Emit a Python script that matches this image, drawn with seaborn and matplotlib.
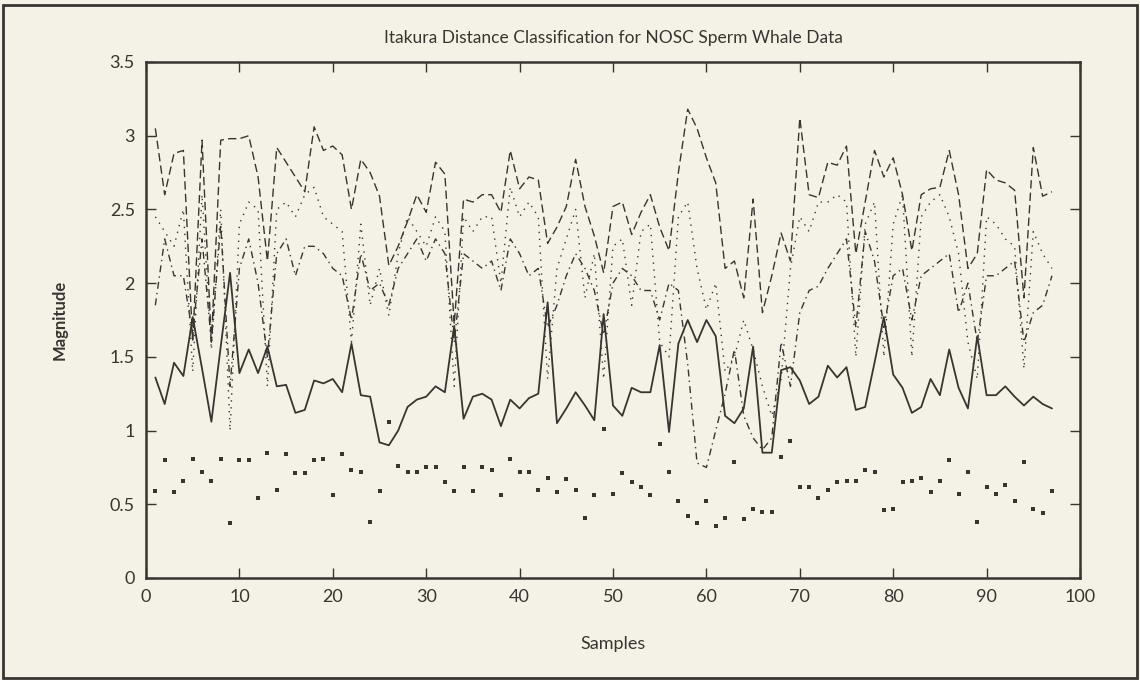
import numpy as np
import pandas as pd
import matplotlib
matplotlib.use("Agg")
import matplotlib.pyplot as plt
import seaborn as sns

samples = list(range(1, 98))

dashed_vals = [3.05, 2.60, 2.88, 2.90, 1.60, 2.97, 1.60, 2.97, 2.98, 2.98,
               3.00, 2.72, 2.15, 2.92, 2.82, 2.72, 2.62, 3.06, 2.90, 2.93,
               2.87, 2.50, 2.84, 2.75, 2.59, 2.12, 2.25, 2.42, 2.60, 2.48,
               2.82, 2.74, 1.72, 2.57, 2.55, 2.60, 2.60, 2.48, 2.90, 2.64,
               2.72, 2.70, 2.27, 2.38, 2.52, 2.84, 2.52, 2.32, 2.07, 2.52,
               2.55, 2.33, 2.48, 2.60, 2.38, 2.22, 2.75, 3.18, 3.05, 2.85,
               2.68, 2.10, 2.15, 1.90, 2.57, 1.80, 2.05, 2.34, 2.15, 3.12,
               2.60, 2.58, 2.82, 2.80, 2.93, 2.20, 2.55, 2.90, 2.72, 2.85,
               2.60, 2.22, 2.60, 2.64, 2.65, 2.90, 2.60, 2.10, 2.20, 2.77,
               2.70, 2.68, 2.63, 1.90, 2.92, 2.59, 2.62]

dotted_vals = [2.45, 2.35, 2.25, 2.50, 1.40, 2.60, 1.55, 2.50, 1.00, 2.40,
               2.55, 2.50, 1.30, 2.50, 2.55, 2.45, 2.60, 2.65, 2.45, 2.40,
               2.35, 1.60, 2.40, 1.85, 2.10, 1.78, 2.20, 2.45, 2.35, 2.25,
               2.45, 2.35, 1.30, 2.45, 2.35, 2.45, 2.45, 2.00, 2.65, 2.45,
               2.55, 2.45, 1.35, 2.10, 2.30, 2.50, 1.90, 2.20, 1.35, 2.25,
               2.30, 1.85, 2.35, 2.40, 1.60, 1.50, 2.45, 2.55, 2.10, 1.82,
               2.00, 1.40, 1.50, 1.75, 1.55, 1.30, 1.10, 1.35, 2.10, 2.45,
               2.35, 2.55, 2.55, 2.60, 2.55, 1.50, 2.40, 2.55, 1.50, 2.40,
               2.60, 1.50, 2.45, 2.55, 2.60, 2.45, 2.20, 1.60, 1.35, 2.45,
               2.40, 2.30, 2.25, 1.42, 2.35, 2.20, 2.10]

dashdot_vals = [1.85, 2.30, 2.05, 2.05, 1.65, 2.30, 1.60, 2.40, 1.30, 2.10,
                2.30, 2.00, 1.50, 2.20, 2.30, 2.05, 2.25, 2.25, 2.20, 2.10,
                2.05, 1.75, 2.20, 1.95, 2.00, 1.85, 2.10, 2.20, 2.30, 2.15,
                2.30, 2.20, 1.60, 2.20, 2.15, 2.10, 2.15, 1.95, 2.30, 2.20,
                2.05, 2.10, 1.70, 1.85, 2.05, 2.20, 2.10, 1.95, 1.65, 2.00,
                2.10, 2.05, 1.95, 1.95, 1.75, 2.00, 1.95, 1.45, 0.78, 0.75,
                1.00, 1.25, 1.55, 1.10, 0.95, 0.87, 0.95, 1.60, 1.30, 1.80,
                1.95, 1.98, 2.10, 2.20, 2.30, 1.70, 2.35, 2.15, 1.70, 2.05,
                2.10, 1.75, 2.05, 2.10, 2.15, 2.20, 1.80, 2.00, 1.60, 2.05,
                2.05, 2.10, 2.15, 1.60, 1.80, 1.85, 2.05]

solid_vals = [1.36, 1.18, 1.46, 1.37, 1.77, 1.42, 1.06, 1.57, 2.07, 1.39,
              1.55, 1.39, 1.57, 1.30, 1.31, 1.12, 1.14, 1.34, 1.32, 1.35,
              1.26, 1.59, 1.24, 1.23, 0.92, 0.90, 1.00, 1.16, 1.21, 1.23,
              1.30, 1.26, 1.71, 1.08, 1.23, 1.25, 1.21, 1.03, 1.21, 1.15,
              1.22, 1.25, 1.87, 1.05, 1.15, 1.26, 1.17, 1.07, 1.79, 1.17,
              1.10, 1.29, 1.26, 1.26, 1.58, 0.99, 1.59, 1.75, 1.60, 1.75,
              1.64, 1.10, 1.05, 1.15, 1.57, 0.85, 0.85, 1.41, 1.43, 1.34,
              1.18, 1.23, 1.44, 1.36, 1.43, 1.14, 1.16, 1.46, 1.77, 1.38,
              1.29, 1.12, 1.16, 1.35, 1.24, 1.55, 1.29, 1.15, 1.64, 1.24,
              1.24, 1.30, 1.23, 1.17, 1.23, 1.18, 1.15]

point_vals = [0.59, 0.80, 0.58, 0.66, 0.81, 0.72, 0.66, 0.81, 0.37, 0.80,
              0.80, 0.54, 0.85, 0.60, 0.84, 0.71, 0.71, 0.80, 0.81, 0.56,
              0.84, 0.73, 0.72, 0.38, 0.59, 1.06, 0.76, 0.72, 0.72, 0.75,
              0.75, 0.65, 0.59, 0.75, 0.59, 0.75, 0.73, 0.56, 0.81, 0.72,
              0.72, 0.60, 0.68, 0.58, 0.67, 0.60, 0.41, 0.56, 1.01, 0.57,
              0.71, 0.65, 0.62, 0.56, 0.91, 0.72, 0.52, 0.42, 0.37, 0.52,
              0.35, 0.41, 0.79, 0.40, 0.47, 0.45, 0.45, 0.82, 0.93, 0.62,
              0.62, 0.54, 0.60, 0.65, 0.66, 0.66, 0.73, 0.72, 0.46, 0.47,
              0.65, 0.66, 0.68, 0.58, 0.66, 0.80, 0.57, 0.72, 0.38, 0.62,
              0.57, 0.63, 0.52, 0.79, 0.47, 0.44, 0.59]

x_ticks = [0, 10, 20, 30, 40, 50, 60, 70, 80, 90, 100]
y_ticks = [0, 0.5, 1, 1.5, 2, 2.5, 3, 3.5]
y_tick_labels = ["0", "0.5", "1", "1.5", "2", "2.5", "3", "3.5"]

sns.set_style("ticks")
bg = "#f4f2e6"
ink = "#3a3431"
plt.rcParams["font.family"] = ["Lato", "DejaVu Sans"]
plt.rcParams["xtick.direction"] = "in"
plt.rcParams["ytick.direction"] = "in"

fig = plt.figure(figsize=(11.4, 6.8), dpi=100, facecolor=bg)
ax = fig.add_axes([146 / 1140, 1 - 578 / 680, (1080 - 146) / 1140, (578 - 62) / 680])
ax.set_facecolor(bg)

df = pd.DataFrame({"Samples": samples, "dashed": dashed_vals, "dotted": dotted_vals,
                   "dashdot": dashdot_vals, "solid": solid_vals, "points": point_vals})

lw = 1.0
sns.lineplot(data=df, x="Samples", y="dashed", ax=ax, color=ink, lw=lw,
             linestyle=(0, (6, 3)))
sns.lineplot(data=df, x="Samples", y="dotted", ax=ax, color=ink, lw=lw,
             linestyle=(0, (1, 4)))
sns.lineplot(data=df, x="Samples", y="dashdot", ax=ax, color=ink, lw=lw,
             linestyle=(0, (5, 3, 1, 3)))
sns.lineplot(data=df, x="Samples", y="solid", ax=ax, color=ink, lw=1.3)
sns.scatterplot(data=df, x="Samples", y="points", ax=ax, color=ink, s=10,
                marker="s", edgecolor=ink, linewidth=0)

ax.set_xlim(0, 100)
ax.set_ylim(0, 3.5)
ax.set_xticks(x_ticks)
ax.set_xticklabels([str(t) for t in x_ticks])
ax.set_yticks(y_ticks)
ax.set_yticklabels(y_tick_labels)
ax.tick_params(axis="both", which="both", direction="in", length=7, width=1,
               colors=ink, labelsize=13, top=True, right=True, pad=8)
for s in ax.spines.values():
    s.set_visible(True)
    s.set_color(ink)
    s.set_linewidth(1.8)

ax.set_title("Itakura Distance Classification for NOSC Sperm Whale Data",
             fontsize=12.5, color=ink, pad=14)
ax.set_xlabel("Samples", fontsize=13, color=ink, labelpad=22)
ax.set_ylabel("Magnitude", fontsize=12, color=ink, labelpad=30, fontweight="bold")

# outer frame of the figure
fig.patches.append(plt.Rectangle((3 / 1140, 2 / 680), 1134 / 1140, 673 / 680,
                                 transform=fig.transFigure, fill=False,
                                 edgecolor=ink, linewidth=2))

fig.savefig("out.png", dpi=100, facecolor=bg)
